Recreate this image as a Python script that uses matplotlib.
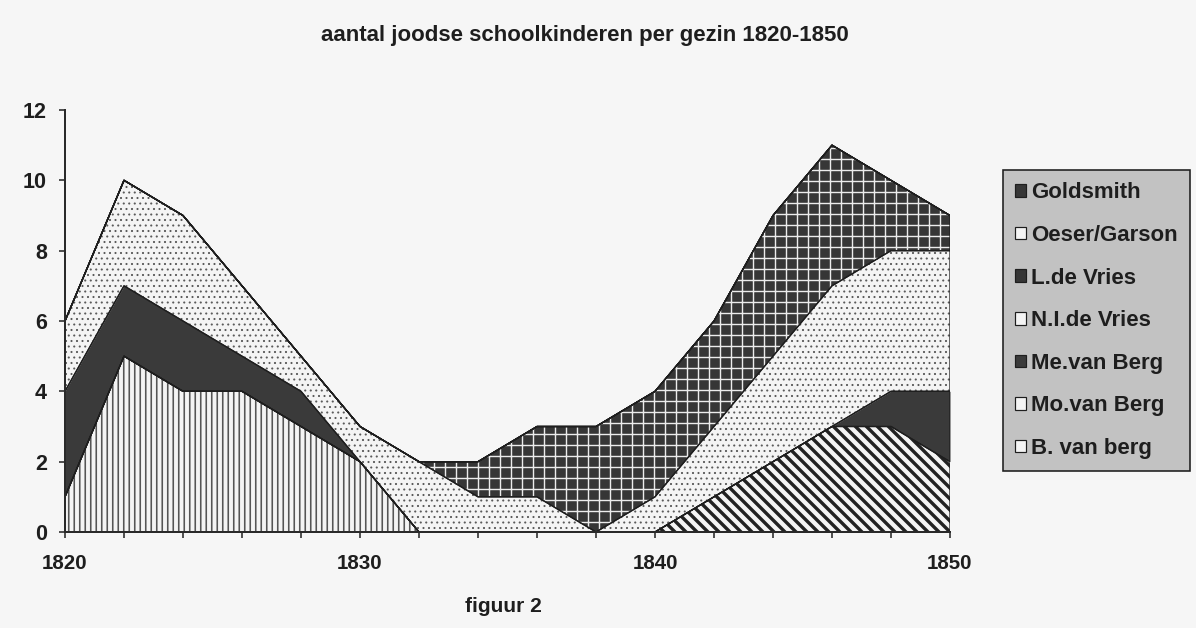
import matplotlib
matplotlib.use("Agg")
import matplotlib.pyplot as plt
from matplotlib.patches import Patch

DPI = 66
def pt(px):
    return px * 72.0 / DPI

years = list(range(1820, 1851, 2))
b_van_berg   = [1, 5, 4, 4, 3, 2, 0, 0, 0, 0, 0, 0, 0, 0, 0, 0]
mo_van_berg  = [0, 0, 0, 0, 0, 0, 0, 0, 0, 0, 0, 1, 2, 3, 3, 2]
me_van_berg  = [3, 2, 2, 1, 1, 0, 0, 0, 0, 0, 0, 0, 0, 0, 1, 2]
ni_de_vries  = [2, 3, 3, 2, 1, 1, 2, 1, 1, 0, 1, 2, 3, 4, 4, 4]
l_de_vries   = [0, 0, 0, 0, 0, 0, 0, 1, 2, 3, 3, 3, 4, 4, 2, 1]
oeser_garson = [0, 0, 0, 0, 0, 0, 0, 0, 0, 0, 0, 0, 0, 0, 0, 0]
goldsmith    = [0, 0, 0, 0, 0, 0, 0, 0, 0, 0, 0, 0, 0, 0, 0, 0]

# bottom -> top stacking order
series_names = ["B. van berg", "Mo.van Berg", "Me.van Berg", "N.I.de Vries",
                "L.de Vries", "Oeser/Garson", "Goldsmith"]
series_values = [b_van_berg, mo_van_berg, me_van_berg, ni_de_vries,
                 l_de_vries, oeser_garson, goldsmith]

y_ticks = [0, 2, 4, 6, 8, 10, 12]
x_label_years = [1820, 1830, 1840, 1850]

# (face, hatch, hatch colour, hatch linewidth px)
styles = [
    ("#f4f4f4", "||", "#555555", 1.6),
    ("#f4f4f4", "\\\\", "#222222", 3.4),
    ("#3a3a3a", None, "#3a3a3a", 1.0),
    ("#f4f4f4", "..", "#5a5a5a", 1.0),
    ("#363636", "+", "#ececec", 1.4),
    ("#f4f4f4", "..", "#5a5a5a", 1.0),
    ("#363636", "-", "#ececec", 1.4),
]

FONT = "Liberation Sans"
BG = "#f6f6f6"
INK = "#1e1e1e"

fig = plt.figure(figsize=(1196 / DPI, 628 / DPI), dpi=DPI, facecolor=BG)
ax = fig.add_axes([65 / 1196, (628 - 532) / 628, (950 - 65) / 1196, (532 - 110) / 628])
ax.set_facecolor("none")

lower = [0] * len(years)
for name, vals, (face, hatch, hcol, hlw) in zip(series_names, series_values, styles):
    upper = [a + b for a, b in zip(lower, vals)]
    with plt.rc_context({"hatch.linewidth": pt(hlw)}):
        coll = ax.fill_between(years, lower, upper, facecolor=face, edgecolor=hcol,
                               hatch=hatch, linewidth=0, zorder=2)
    if hasattr(coll, "set_hatch_linewidth"):
        coll.set_hatch_linewidth(pt(hlw))
    ax.fill_between(years, lower, upper, facecolor="none", edgecolor=INK,
                    linewidth=pt(1.3), zorder=3)
    lower = upper

ax.set_xlim(1820, 1850)
ax.set_ylim(0, 12)
for s in ["top", "right"]:
    ax.spines[s].set_visible(False)
for s in ["left", "bottom"]:
    ax.spines[s].set_color("#2a2a2a")
    ax.spines[s].set_linewidth(pt(2))
    ax.spines[s].set_zorder(5)

ax.set_xticks(years)
ax.set_xticklabels([str(y) if y in x_label_years else "" for y in years])
ax.set_yticks(y_ticks)
ax.set_yticklabels([str(v) for v in y_ticks])
ax.tick_params(axis="x", direction="out", length=pt(6), width=pt(1.6), color="#2a2a2a",
               pad=pt(16), labelsize=pt(20.5), labelcolor=INK)
ax.tick_params(axis="y", direction="out", length=pt(6), width=pt(1.6), color="#2a2a2a",
               pad=pt(12), labelsize=pt(21.5), labelcolor=INK)
for lab in ax.get_xticklabels() + ax.get_yticklabels():
    lab.set_fontfamily(FONT)
    lab.set_fontweight("bold")

fig.text(585 / 1196, 1 - 36 / 628, "aantal joodse schoolkinderen per gezin 1820-1850",
         ha="center", va="center", fontsize=pt(22.3), fontweight="bold",
         family=FONT, color=INK)
fig.text(503 / 1196, 1 - 607 / 628, "figuur 2", ha="center", va="center",
         fontsize=pt(21), fontweight="bold", family=FONT, color=INK)

handles = []
for (face, hatch, hcol, hlw) in styles:
    handles.append(Patch(facecolor=face, edgecolor=INK, linewidth=pt(1.2)))
leg = fig.legend(handles[::-1], series_names[::-1], loc="upper left",
                 bbox_to_anchor=(1003 / 1196, 1 - 170 / 628), borderaxespad=0,
                 prop={"family": FONT, "weight": "bold", "size": pt(22.3)},
                 handlelength=0.5, handleheight=0.5, handletextpad=0.2,
                 labelspacing=0.97, borderpad=0.55, frameon=True, fancybox=False,
                 framealpha=1)
leg.get_frame().set_facecolor("#c2c2c2")
leg.get_frame().set_edgecolor(INK)
leg.get_frame().set_linewidth(pt(1.6))
for t in leg.get_texts():
    t.set_color(INK)

fig.savefig("out.png", dpi=DPI, facecolor=BG)
